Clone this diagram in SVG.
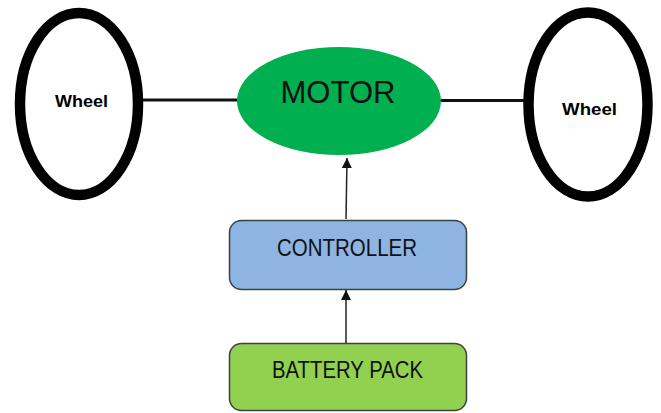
<svg xmlns="http://www.w3.org/2000/svg" width="661" height="413" viewBox="0 0 661 413">
<style>
.wheel{fill:#fff;stroke:#000;stroke-width:10.5}
.wt{font-family:"Liberation Sans",Arial,sans-serif;font-weight:bold;font-size:16px;fill:#000}
.box{stroke:#404040;stroke-width:1.5}
.bt{font-family:"Liberation Sans",Arial,sans-serif;font-size:23px;fill:#111}
.axle{stroke:#111;stroke-width:3}
.arr{stroke:#222;stroke-width:1.5;fill:none;marker-end:url(#ah)}
</style>
<defs>
<marker id="ah" viewBox="0 0 10 10" refX="10" refY="5" markerWidth="10" markerHeight="10" markerUnits="userSpaceOnUse" orient="auto">
<path d="M0,0 L10,5 L0,10 z" fill="#111"/>
</marker>
</defs>
<g id="connectors">
<line class="axle" x1="143" y1="100" x2="240" y2="100"/>
<line class="axle" x1="438" y1="100.5" x2="525" y2="100.5"/>
<line class="arr" x1="346" y1="219" x2="347" y2="158"/>
<line class="arr" x1="346" y1="343" x2="346" y2="290"/>
</g>
<g id="wheel-left">
<ellipse class="wheel" cx="79" cy="104" rx="59" ry="91"/>
<text class="wt" x="81.5" y="107" text-anchor="middle" textLength="53" lengthAdjust="spacingAndGlyphs">Wheel</text>
</g>
<g id="wheel-right">
<ellipse class="wheel" cx="588" cy="104.5" rx="59.5" ry="92"/>
<text class="wt" x="589.5" y="115" text-anchor="middle" textLength="55" lengthAdjust="spacingAndGlyphs">Wheel</text>
</g>
<g id="motor">
<ellipse cx="339" cy="101" rx="102" ry="54" fill="#00B050"/>
<text x="338" y="103" text-anchor="middle" font-family="Liberation Sans, Arial, sans-serif" font-size="32" fill="#111" textLength="115" lengthAdjust="spacingAndGlyphs">MOTOR</text>
</g>
<g id="controller">
<rect class="box" x="229.5" y="220.5" width="237" height="69" rx="12" fill="#8EB4E3"/>
<text class="bt" x="347" y="256" text-anchor="middle" textLength="140" lengthAdjust="spacingAndGlyphs">CONTROLLER</text>
</g>
<g id="battery">
<rect class="box" x="229.5" y="343.5" width="237" height="67" rx="12" fill="#92D050"/>
<text class="bt" x="347.5" y="378" text-anchor="middle" textLength="151" lengthAdjust="spacingAndGlyphs">BATTERY PACK</text>
</g>
</svg>
